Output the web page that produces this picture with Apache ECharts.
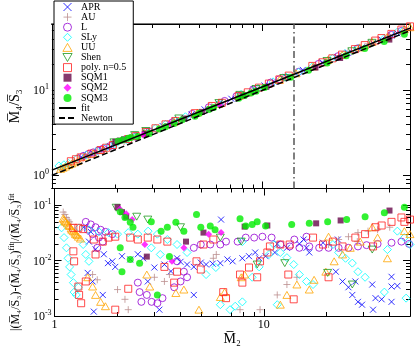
<!DOCTYPE html>
<html><head><meta charset="utf-8">
<script src="https://cdn.jsdelivr.net/npm/echarts@6/dist/echarts.min.js"></script>
<style>html,body{margin:0;padding:0;background:#fff}#c{width:415px;height:349px}</style>
</head><body><div id="c"></div>
<script>
// ---------- DATA ----------
const X_TICKS_MAJOR = [1, 10];
const X_TICKS_MINOR = [2,3,4,5,6,7,8,9,20,30,40,50];
const Y1_TICKS_MAJOR = [1, 10];
const Y1_TICKS_MINOR = [0.7,0.8,0.9,2,3,4,5,6,7,8,9,20,30,40,50,60];
const Y2_TICKS_MAJOR = [0.001, 0.01, 0.1];
const Y2_TICKS_MINOR = [0.002,0.003,0.004,0.005,0.006,0.007,0.008,0.009,0.02,0.03,0.04,0.05,0.06,0.07,0.08,0.09,0.2];
const VLINE_X = 14;

const FIT_LINE = [[1,1.15],[10,11.0],[50,53.6]];
const NEWTON_LINE = [[1,1.0],[10,10.0],[50,50.0]];

const APR_TOP = [[1.38,1.64],[1.46,1.72],[1.57,1.82],[1.72,1.98],[1.9,2.18],[2.8,3.17],[3.35,3.80],[3.85,4.37],[4.6,5.18],[5.3,5.96],[6.2,6.95],[7.1,7.94],[7.9,8.83],[9.1,10.18],[10.2,11.36],[11.3,12.58],[12.9,14.37],[15.5,17.33],[19.2,21.31],[22.6,24.64],[25.4,27.55],[29.5,31.86],[33.3,35.86],[36.6,39.40],[40.8,43.95],[43.5,46.73]];
const AU_TOP = [[1.1,1.168],[1.13,1.219],[1.16,1.261],[1.2,1.313],[1.52,1.744],[1.6,1.832],[2.0,2.277],[2.2,2.495],[3.0,3.395],[3.54,3.996],[5.74,6.455],[9.6,10.59],[12.9,14.18],[14.4,15.82],[20.4,22.58],[25.4,28.21],[31.5,35.08],[40,44.6]];
const L_TOP = [[1.41,1.69],[1.49,1.78],[1.57,1.86],[1.66,1.96],[1.75,2.06],[1.89,2.21],[2.5,2.84],[2.9,3.27],[3.73,4.20],[4.63,5.26],[5.55,6.30],[6.6,7.48],[7.5,8.48],[9.0,10.19],[10.9,12.29],[12,13.43],[14.8,16.45],[18.4,20.36],[22.8,25.12],[28.2,30.99],[40.8,44.65],[45.5,49.75]];
const SLY_TOP = [[1.08,1.29],[1.14,1.33],[1.2,1.38],[1.31,1.56],[1.46,1.73],[1.63,1.92],[1.81,2.12],[2.0,2.34],[2.25,2.63],[2.5,2.91],[2.8,3.26],[3.1,3.59],[3.46,3.98],[3.85,4.40],[4.3,4.88],[6.2,6.90],[7.9,8.93],[9.5,10.55],[11.2,12.54],[12.9,14.29],[14.8,16.26],[17.2,18.81],[21.4,23.67],[24.6,26.91],[28.2,30.63],[37.7,40.53],[43.5,48.15],[47,51.55]];
const UU_TOP = [[1.1,1.19],[1.13,1.229],[1.16,1.268],[1.2,1.323],[1.24,1.372],[1.28,1.421],[1.33,1.483],[1.44,1.653],[1.57,1.794],[1.75,1.994],[2.76,3.13],[3.8,4.27],[4.9,5.474],[6.2,6.905],[7.8,8.67],[12,13.19],[14.4,15.80],[17.4,19.04],[20.4,22.75],[23.8,26.09],[28.9,31.87],[33,36.93],[39,42.29],[47,51.95],[50,54.96]];
const SHEN_TOP = [[1.97,2.44],[2.47,2.97],[2.79,3.32],[4.0,4.66],[6.2,7.07],[7.8,8.82],[9.3,10.34],[12.6,13.93],[20.2,22.07],[26.5,28.74],[33,36.07]];
const POLY_TOP = [[1.23,1.464],[1.3,1.545],[1.37,1.625],[1.54,1.80],[1.7,1.98],[1.81,2.11],[1.95,2.27],[2.3,2.67],[2.5,2.89],[2.79,3.23],[3.1,3.57],[3.46,3.97],[3.85,4.35],[4.77,5.38],[5.74,6.53],[6.4,7.12],[7.7,8.57],[8.5,9.45],[9.6,10.73],[10.7,11.97],[12,13.4],[13.3,14.85],[17.2,19.3],[19.2,21.3],[21.4,23.7],[23.8,26.2],[27.4,30.4],[30.5,33.9],[34.2,38.3],[36.6,41.0],[40.8,45.9],[45.5,51.6],[50,56.3]];
const SQM1_TOP = [[2.0,2.48],[2.1,2.56],[2.2,2.65],[2.76,3.076],[4.25,4.65],[5.15,5.56],[8.1,8.59],[10.4,10.95],[17.8,18.47],[23.3,23.90],[39.9,39.36]];
const SQM2_TOP = [[2.05,2.52],[2.2,2.67],[2.35,2.81],[2.7,2.99],[3.64,4.04],[4.15,4.57],[5.45,5.89],[6.25,6.72]];
const SQM3_TOP = [[2.06,2.51],[2.17,2.61],[2.3,2.73],[2.37,2.79],[2.55,2.855],[2.9,3.10],[3.23,3.51],[3.46,3.73],[3.8,4.05],[4.15,4.49],[4.77,4.96],[5.0,5.35],[5.55,5.92],[5.85,6.27],[7.7,8.03],[8.2,8.68],[8.8,9.27],[9.3,9.74],[10.2,10.76],[13.6,14.21],[16.5,17.15],[20.2,20.84],[24.9,25.45],[30.5,30.83],[37.7,37.47],[47,45.62]];

const APR_DEV = [[1.38,0.04],[1.44,0.006],[1.46,0.022],[1.49,0.033],[1.52,0.0042],[1.54,0.0012],[1.57,0.016],[1.7,0.0024],[1.72,0.013],[1.8,0.009],[1.89,0.0097],[1.95,0.0077],[2.1,0.012],[2.3,0.0105],[2.5,0.013],[2.65,0.011],[2.79,0.0042],[3.0,0.0075],[3.17,0.0013],[3.35,0.0085],[3.6,0.0064],[3.85,0.011],[4.0,0.0095],[4.3,0.0085],[4.63,0.0077],[4.63,0.0024],[5.0,0.0092],[5.3,0.0085],[5.7,0.0088],[6.2,0.009],[6.25,0.055],[6.7,0.0105],[7.1,0.0097],[7.9,0.011],[8.5,0.012],[9.1,0.014],[9.5,0.011],[10.2,0.012],[11.3,0.014],[11.6,0.02],[12.9,0.017],[14.8,0.02],[15.5,0.024],[16,0.017],[16.5,0.014],[19.2,0.021],[22.1,0.0063],[22.6,0.024],[23.8,0.0042],[25.4,0.0033],[26.5,0.0024],[27.4,0.0042],[28.2,0.0018],[29.5,0.0016],[33,0.0037],[33.3,0.0013],[34.2,0.0021],[36.6,0.002],[40.8,0.0051],[40.8,0.0034],[40.8,0.0018],[43.5,0.0035]];
const AU_DEV = [[1.1,0.075],[1.12,0.068],[1.14,0.06],[1.16,0.054],[1.18,0.05],[1.2,0.045],[1.52,0.0056],[1.6,0.0045],[2.0,0.003],[2.17,0.002],[2.25,0.0013],[3.0,0.005],[3.35,0.0042],[3.54,0.0056],[5.74,0.011],[5.93,0.0129],[7.7,0.0013],[9.6,0.0013],[11.6,0.0024],[12.9,0.0037],[14.4,0.005],[20.4,0.0195],[22.8,0.024],[25.4,0.027],[28.2,0.032],[28,0.022],[31.5,0.034],[35,0.036],[40,0.04]];
const L_DEV = [[1.41,0.05],[1.44,0.036],[1.49,0.045],[1.52,0.03],[1.57,0.04],[1.6,0.017],[1.63,0.026],[1.66,0.036],[1.7,0.022],[1.75,0.033],[1.89,0.03],[2.5,0.004],[2.55,0.0027],[2.6,0.0018],[2.76,0.0024],[2.91,0.0018],[3.1,0.0017],[3.28,0.0021],[3.73,0.0033],[3.85,0.0097],[4.0,0.0042],[4.15,0.0063],[4.3,0.005],[4.63,0.017],[5.0,0.0195],[5.55,0.0195],[6.2,0.0195],[6.6,0.022],[7.5,0.022],[8.2,0.026],[9.0,0.026],[9.85,0.027],[10.9,0.026],[12,0.0195],[13.3,0.018],[14,0.024],[14.8,0.017],[16,0.027],[16.5,0.018],[18.4,0.017],[20.4,0.017],[22.8,0.017],[25.4,0.017],[28.2,0.018],[31,0.019],[35,0.02],[40.8,0.021],[45.5,0.022],[49.5,0.02]];
const SLY_DEV = [[1.08,0.039],[1.11,0.026],[1.14,0.017],[1.16,0.011],[1.18,0.0077],[1.2,0.0056],[1.23,0.004],[1.24,0.0027],[1.27,0.0024],[1.3,0.0033],[1.31,0.039],[1.37,0.0195],[1.41,0.0129],[1.46,0.036],[1.46,0.0097],[1.63,0.033],[1.81,0.032],[2.0,0.03],[2.25,0.032],[2.5,0.03],[2.8,0.034],[2.9,0.017],[3.1,0.03],[3.2,0.0129],[3.46,0.024],[3.85,0.0195],[4.3,0.014],[5.3,0.0056],[5.9,0.0075],[6.2,0.0016],[6.9,0.0013],[7.3,0.0015],[7.9,0.0018],[7.9,0.022],[8.8,0.005],[9.5,0.0077],[10.6,0.0129],[11.2,0.0195],[11.6,0.0016],[12,0.014],[12.9,0.0113],[13.9,0.0085],[14.8,0.0056],[16,0.0042],[17.2,0.0037],[21.4,0.0195],[22.8,0.014],[24.6,0.011],[26.5,0.009],[28.2,0.0063],[30.5,0.005],[37.7,0.0027],[39,0.0158],[43.5,0.034],[47,0.026],[47.9,0.0021],[50,0.0195]];
const UU_DEV = [[1.1,0.058],[1.11,0.055],[1.12,0.052],[1.13,0.05],[1.15,0.047],[1.17,0.044],[1.18,0.042],[1.2,0.038],[1.21,0.036],[1.23,0.034],[1.25,0.032],[1.26,0.03],[1.28,0.029],[1.3,0.027],[1.33,0.025],[1.44,0.005],[1.52,0.0034],[1.57,0.0024],[1.66,0.0018],[1.75,0.0015],[2.76,0.0056],[2.85,0.0034],[3.8,0.0026],[4.15,0.003],[4.9,0.0013],[6.2,0.0022],[6.5,0.0027],[7.8,0.005],[8.1,0.0056],[12,0.0016],[12.9,0.0024],[14.4,0.0037],[16.5,0.003],[17.4,0.0045],[19.8,0.0063],[20.4,0.027],[21.7,0.0097],[23.8,0.0129],[25.9,0.017],[28.9,0.022],[33,0.04],[35,0.026],[39,0.011],[47,0.034],[50,0.03]];
const SHEN_DEV = [[1.97,0.09],[2.47,0.062],[2.79,0.055],[4.0,0.04],[6.2,0.026],[7.8,0.022],[9.3,0.0085],[12.6,0.009],[20.2,0.006],[26.5,0.0037],[33,0.0158]];
const POLY_DEV = [[1.23,0.039],[1.23,0.0147],[1.24,0.0097],[1.3,0.039],[1.3,0.0034],[1.31,0.0024],[1.34,0.0017],[1.37,0.037],[1.41,0.0042],[1.54,0.024],[1.57,0.0129],[1.7,0.022],[1.81,0.026],[1.95,0.027],[1.95,0.0013],[2.25,0.0031],[2.3,0.026],[2.5,0.024],[2.79,0.026],[3.1,0.024],[3.35,0.0077],[3.46,0.022],[3.73,0.004],[3.85,0.0063],[4.77,0.0097],[5.0,0.0069],[5.15,0.0195],[5.74,0.024],[6.4,0.0027],[6.6,0.0021],[7.7,0.0056],[7.9,0.004],[8.5,0.0075],[9.3,0.005],[9.6,0.0097],[10.4,0.014],[10.7,0.018],[12,0.0195],[13.1,0.0056],[13.3,0.0195],[13.9,0.002],[17.2,0.026],[19.2,0.0195],[20.4,0.005],[21.4,0.022],[23.8,0.018],[27.4,0.026],[30.5,0.03],[33.3,0.018],[34.2,0.04],[36.6,0.043],[40.8,0.05],[45.5,0.06],[47,0.05],[50,0.055]];
const SQM1_DEV = [[2.0,0.092],[2.1,0.075],[2.2,0.062],[2.76,0.0118],[4.25,0.022],[5.15,0.032],[8.1,0.041],[10.4,0.043],[17.8,0.047],[23.3,0.053],[39.9,0.08]];
const SQM2_DEV = [[2.05,0.085],[2.2,0.07],[2.35,0.055],[2.7,0.0195],[3.64,0.0097],[4.15,0.017],[5.45,0.03],[6.25,0.032]];
const SQM3_DEV = [[2.06,0.076],[2.06,0.017],[2.1,0.0063],[2.17,0.06],[2.3,0.049],[2.3,0.0105],[2.37,0.04],[2.55,0.009],[2.9,0.05],[3.1,0.0024],[3.23,0.034],[3.46,0.04],[3.54,0.0118],[3.8,0.049],[4.15,0.034],[4.77,0.068],[5.0,0.04],[5.55,0.042],[5.85,0.036],[7.7,0.057],[8.2,0.042],[8.8,0.045],[9.3,0.05],[10.2,0.042],[13.6,0.045],[16.5,0.047],[20.2,0.05],[24.9,0.055],[30.5,0.062],[37.7,0.073],[47,0.092]];

// ---------- STYLE ----------
const FONT = 'Liberation Serif';
const X_PATH = 'path://M0,0L10,10M0,10L10,0';
const PLUS_PATH = 'path://M5,0L5,10M0,5L10,5';
const DOWN_TRI = 'path://M0,0L10,0L5,8.66Z';
const UP_TRI = 'path://M5,0L10,8.66L0,8.66Z';
const RECT = 'path://M0,0L10,0L10,10L0,10Z';
const DIAMOND = 'path://M5,0L10,5L5,10L0,5Z';
const SETS = [
  {name:'APR', top:APR_TOP, dev:APR_DEV, symbol:X_PATH, color:'#0000ff', hollow:true, size:6},
  {name:'AU', top:AU_TOP, dev:AU_DEV, symbol:PLUS_PATH, color:'#bc8f8f', hollow:true, size:7},
  {name:'L', top:L_TOP, dev:L_DEV, symbol:'circle', color:'#9400d3', hollow:true, size:7},
  {name:'SLy', top:SLY_TOP, dev:SLY_DEV, symbol:DIAMOND, color:'#00ffff', hollow:true, size:8},
  {name:'UU', top:UU_TOP, dev:UU_DEV, symbol:UP_TRI, color:'#ffa500', hollow:true, size:8},
  {name:'Shen', top:SHEN_TOP, dev:SHEN_DEV, symbol:DOWN_TRI, color:'#1f9a1f', hollow:true, size:8},
  {name:'poly. n=0.5', top:POLY_TOP, dev:POLY_DEV, symbol:RECT, color:'#ff2020', hollow:true, size:7},
  {name:'SQM1', top:SQM1_TOP, dev:SQM1_DEV, symbol:RECT, color:'#670748', hollow:false, size:6},
  {name:'SQM2', top:SQM2_TOP, dev:SQM2_DEV, symbol:DIAMOND, color:'#ff00ff', hollow:false, size:7},
  {name:'SQM3', top:SQM3_TOP, dev:SQM3_DEV, symbol:'circle', color:'#00ee00', hollow:false, size:7}
];

const FRAME = '#000';
function ax(dim, grid, pos, min, max, ticks, len, extra) {
  const a = {
    type:'log', logBase:10, gridIndex:grid, position:pos, min:min, max:max,
    axisLine:{show:true, onZero:false, lineStyle:{color:FRAME, width:1}},
    axisTick:{show:true, inside:true, length:len, customValues:ticks, lineStyle:{color:'#000', width:1}},
    axisLabel:{show:false},
    splitLine:{show:false}, minorTick:{show:false}, minorSplitLine:{show:false}
  };
  return Object.assign(a, extra || {});
}
function supLabel(v) {
  const e = Math.round(Math.log10(v));
  return '{a|10}{b|' + e + '}';
}
const labelRich = {
  a:{fontFamily:FONT, fontSize:12, color:'#000', lineHeight:14, verticalAlign:'bottom'},
  b:{fontFamily:FONT, fontSize:8, color:'#000', lineHeight:8, verticalAlign:'top'}
};

const xAxes = [
  ax('x',0,'bottom',1,50,X_TICKS_MAJOR,7),
  ax('x',0,'bottom',1,50,X_TICKS_MINOR,4),
  ax('x',0,'top',1,50,X_TICKS_MAJOR,7,{axisLine:{show:true,lineStyle:{color:'#777',width:2}}}),
  ax('x',0,'top',1,50,X_TICKS_MINOR,4),
  ax('x',1,'bottom',1,50,X_TICKS_MAJOR,7,{
    axisLabel:{show:true, customValues:X_TICKS_MAJOR, margin:3, fontFamily:FONT, fontSize:12, color:'#000'},
    name:'M\u0305\u2082', nameLocation:'middle', nameGap:8,
    nameTextStyle:{fontFamily:FONT, fontSize:14, color:'#000', verticalAlign:'top'}
  }),
  ax('x',1,'bottom',1,50,X_TICKS_MINOR,4),
  ax('x',1,'top',1,50,X_TICKS_MAJOR,7),
  ax('x',1,'top',1,50,X_TICKS_MINOR,4)
];
const yAxes = [
  ax('y',0,'left',0.7,60,Y1_TICKS_MAJOR,7,{
    axisLabel:{show:true, customValues:Y1_TICKS_MAJOR, margin:3, formatter:supLabel, rich:labelRich},
    name:'M\u0305\u2084/S\u0305\u2083', nameLocation:'middle', nameGap:28, nameRotate:90,
    nameTextStyle:{fontFamily:FONT, fontSize:14, color:'#000'}
  }),
  ax('y',0,'left',0.7,60,Y1_TICKS_MINOR,4),
  ax('y',0,'right',0.7,60,Y1_TICKS_MAJOR,7,{axisLine:{show:true,lineStyle:{color:'#555',width:1}}}),
  ax('y',0,'right',0.7,60,Y1_TICKS_MINOR,4),
  ax('y',1,'left',0.001,0.2,Y2_TICKS_MAJOR,7,{
    axisLabel:{show:true, customValues:Y2_TICKS_MAJOR, margin:3, formatter:supLabel, rich:labelRich},
    name:'{t||(M\u0305\u2084/S\u0305\u2083)-(M\u0305\u2084/S\u0305\u2083)}{s|fit}{t||/(M\u0305\u2084/S\u0305\u2083)}{s|fit}',
    nameLocation:'middle', nameGap:28, nameRotate:90,
    nameTextStyle:{padding:[0,20,0,0], rich:{
      t:{fontFamily:FONT, fontSize:12, color:'#000', lineHeight:14, verticalAlign:'bottom'},
      s:{fontFamily:FONT, fontSize:8, color:'#000', lineHeight:8, verticalAlign:'top'}
    }}
  }),
  ax('y',1,'left',0.001,0.2,Y2_TICKS_MINOR,4),
  ax('y',1,'right',0.001,0.2,Y2_TICKS_MAJOR,7,{axisLine:{show:true,lineStyle:{color:'#555',width:1}}}),
  ax('y',1,'right',0.001,0.2,Y2_TICKS_MINOR,4)
];

const series = [];
const legendData = [];
SETS.forEach(s => {
  const st = s.hollow ? {color:'rgba(0,0,0,0)', borderColor:s.color, borderWidth:1}
                      : {color:s.color, borderColor:s.color, borderWidth:0};
  const common = {type:'scatter', name:s.name, symbol:s.symbol, symbolSize:s.size, symbolKeepAspect:true, itemStyle:st, silent:true};
  series.push(Object.assign({}, common, {xAxisIndex:0, yAxisIndex:0, data:s.top}));
  series.push(Object.assign({}, common, {xAxisIndex:4, yAxisIndex:4, data:s.dev}));
  legendData.push({name:s.name, icon:s.symbol, itemStyle:Object.assign({}, st)});
});
legendData.push({name:'fit'});
legendData.push({name:'Newton'});
const NOFILL = {color:'rgba(0,0,0,0)', borderColor:'rgba(0,0,0,0)', borderWidth:0};
series.push({type:'line', name:'fit', xAxisIndex:0, yAxisIndex:0, data:FIT_LINE, symbol:'none',
  lineStyle:{color:'#000', width:1.5}, itemStyle:NOFILL, silent:true,
  markLine:{silent:true, symbol:'none', label:{show:false},
    lineStyle:{color:'#555', width:1.5, type:[7,3,1.5,3]}, data:[{xAxis:VLINE_X}]}});
series.push({type:'line', name:'Newton', xAxisIndex:0, yAxisIndex:0, data:NEWTON_LINE, symbol:'none',
  lineStyle:{color:'#000', width:1.5, type:[6,3]}, itemStyle:NOFILL, silent:true});

const chart = echarts.init(document.getElementById('c'), null, {renderer:'canvas'});
chart.setOption({
  animation:false,
  backgroundColor:'#fff',
  grid:[
    {left:48, top:24, width:362, height:164.5},
    {left:48, top:188.5, width:362, height:127.5}
  ],
  xAxis:xAxes, yAxis:yAxes,
  legend:{
    data:legendData,
    orient:'vertical', left:54, top:1, itemWidth:17, itemHeight:8, itemGap:0.1,
    padding:[1,7,1,4], backgroundColor:'#fff', borderColor:'#000', borderWidth:1, borderRadius:0,
    selectedMode:false, itemStyle:{borderWidth:1},
    textStyle:{fontFamily:FONT, fontSize:10, color:'#000', lineHeight:10}
  },
  series:series
});
</script></body></html>
